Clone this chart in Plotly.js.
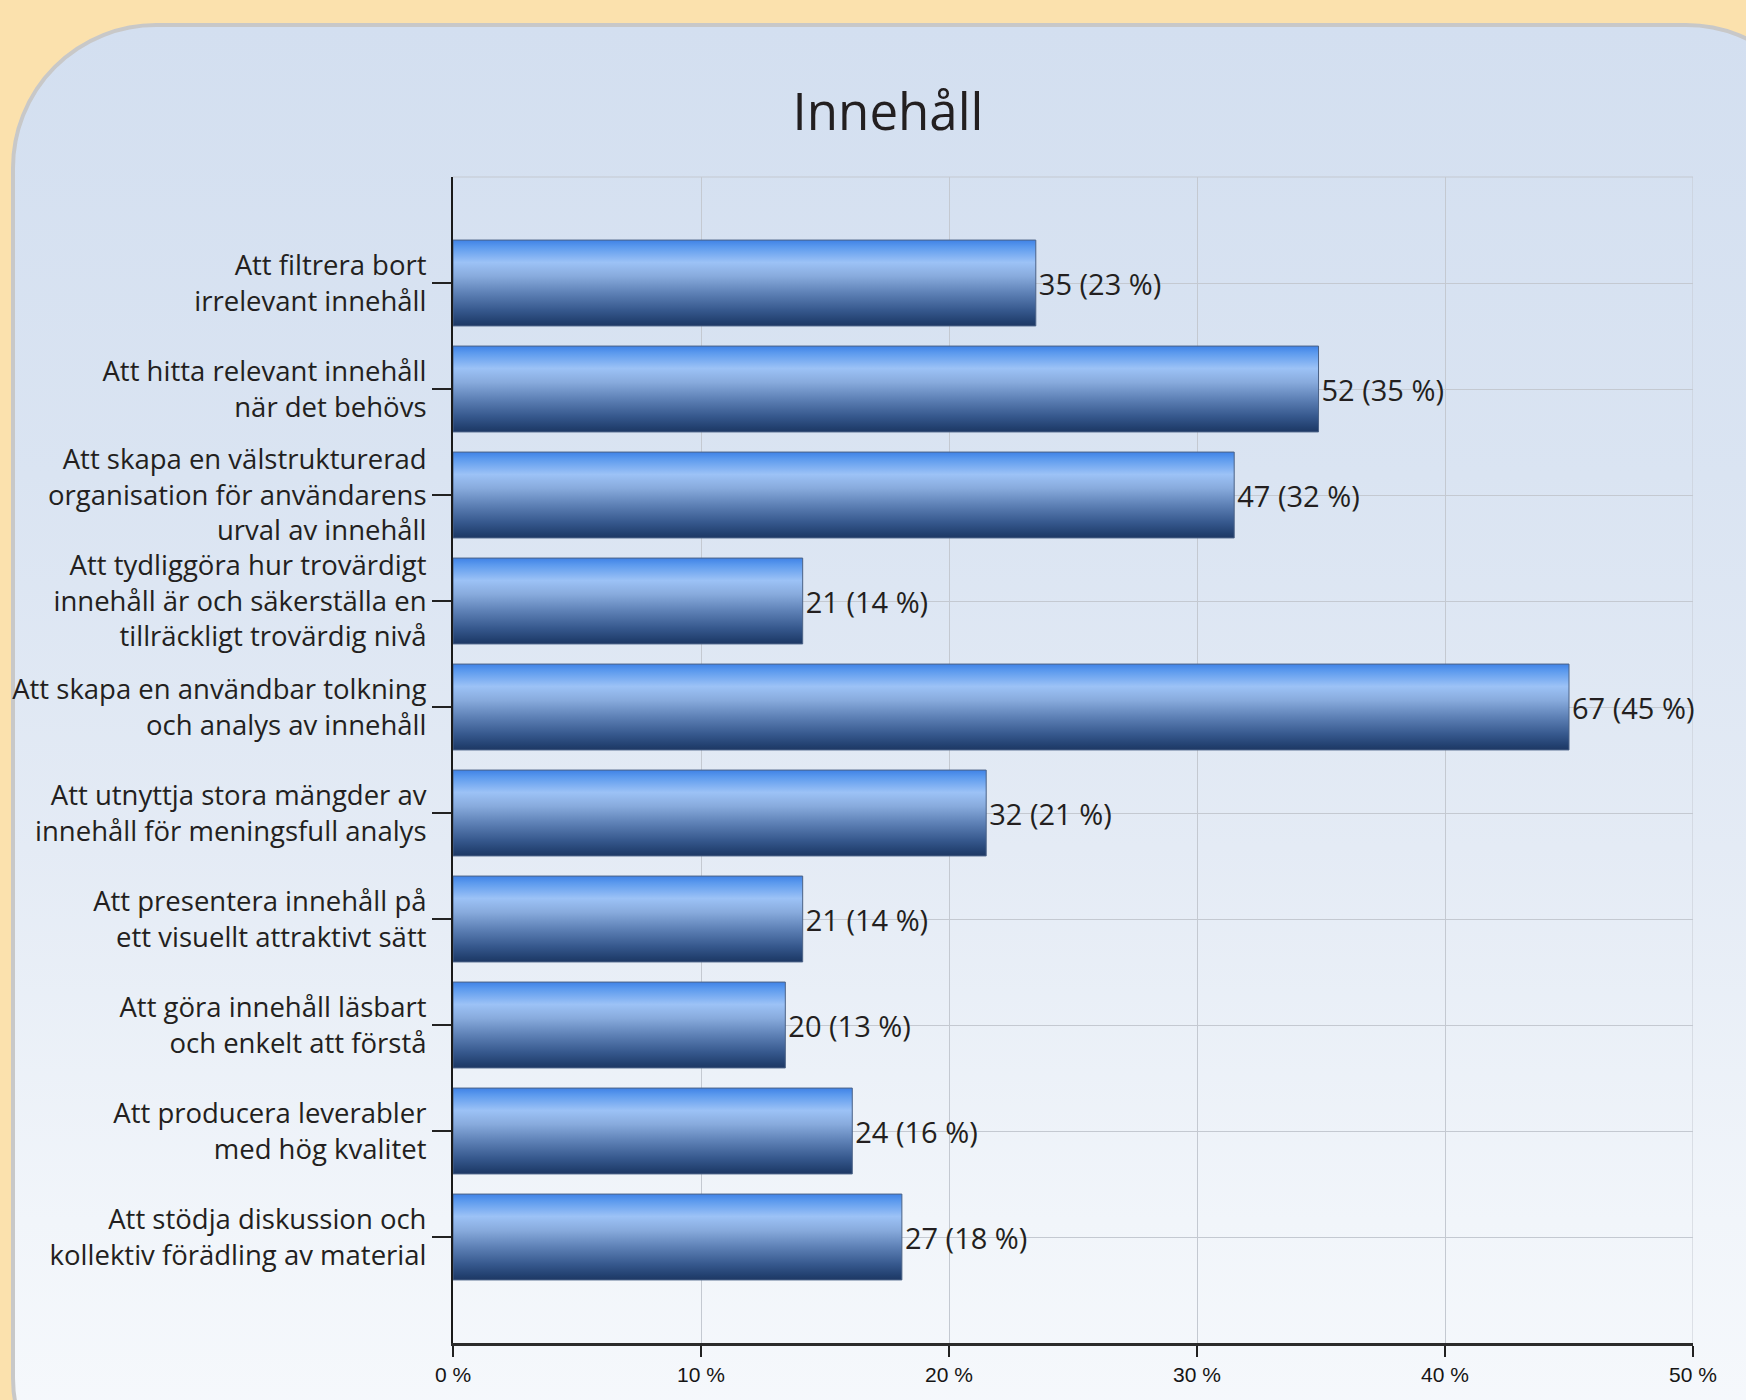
<!DOCTYPE html>
<html>
<head>
<meta charset="utf-8">
<script src="https://cdn.plot.ly/plotly-3.0.1.min.js"></script>
<style>
  html, body { margin: 0; padding: 0; background: #FBE1AD; width: 1746px; height: 1400px; overflow: hidden; }
  #panel {
    position: absolute; left: 11px; top: 23px; width: 1820px; height: 1500px;
    border: 4px solid #C8C8C8; border-radius: 145px; box-sizing: border-box;
    background: linear-gradient(to bottom, #D3DFF0 0%, #DAE4F2 30%, #E4EBF5 55%, #F1F5FA 80%, #F8FAFD 100%);
  }
  #chart { position: absolute; left: 0; top: 0; width: 1746px; height: 1400px; }
</style>
</head>
<body>
<div id="panel"></div>
<div id="chart"></div>
<script>
// ---- data ----
const categories = [
  "Att filtrera bort<br>irrelevant innehåll",
  "Att hitta relevant innehåll<br>när det behövs",
  "Att skapa en välstrukturerad<br>organisation för användarens<br>urval av innehåll",
  "Att tydliggöra hur trovärdigt<br>innehåll är och säkerställa en<br>tillräckligt trovärdig nivå",
  "Att skapa en användbar tolkning<br>och analys av innehåll",
  "Att utnyttja stora mängder av<br>innehåll för meningsfull analys",
  "Att presentera innehåll på<br>ett visuellt attraktivt sätt",
  "Att göra innehåll läsbart<br>och enkelt att förstå",
  "Att producera leverabler<br>med hög kvalitet",
  "Att stödja diskussion och<br>kollektiv förädling av material"
];
const counts = [35, 52, 47, 21, 67, 32, 21, 20, 24, 27];
const percentLabels = [23, 35, 32, 14, 45, 21, 14, 13, 16, 18];
const percentValues = [23.5, 34.9, 31.5, 14.1, 45.0, 21.5, 14.1, 13.4, 16.1, 18.1];
const xTickVals = [0, 10, 20, 30, 40, 50];
const xTickText = ["0 %", "10 %", "20 %", "30 %", "40 %", "50 %"];
const chartTitle = "Innehåll";

const labels = counts.map((c, i) => c + " (" + percentLabels[i] + " %)");

const textFont = '"Open Sans", Lato, sans-serif';
const gridColor = '#C4C9D1';

const trace = {
  type: 'bar',
  orientation: 'h',
  x: percentValues,
  y: categories,
  width: 0.81,
  text: labels,
  textposition: 'outside',
  constraintext: 'none',
  cliponaxis: false,
  textfont: { family: textFont, size: 29, color: '#231F20' },
  marker: { color: '#5B8CD3', line: { color: '#4B6286', width: 1 } },
  hoverinfo: 'none'
};

const layout = {
  width: 1746,
  height: 1400,
  paper_bgcolor: 'rgba(0,0,0,0)',
  plot_bgcolor: 'rgba(0,0,0,0)',
  margin: { l: 453, r: 53, t: 177, b: 57, pad: 0 },
  showlegend: false,
  title: {
    text: chartTitle,
    font: { family: textFont, size: 51, color: '#231F20' },
    x: 888 / 1746, xref: 'container', xanchor: 'center',
    y: 1 - 112 / 1400, yref: 'container', yanchor: 'middle'
  },
  xaxis: {
    range: [0, 50],
    tickmode: 'array',
    tickvals: xTickVals,
    ticktext: xTickText,
    tickfont: { family: '"Liberation Sans Narrow", "Arial Narrow", sans-serif', size: 21, color: '#151515' },
    ticks: 'outside', ticklen: 11, tickwidth: 1.5, tickcolor: '#222',
    showgrid: true, gridcolor: gridColor, gridwidth: 1,
    showline: true, linecolor: '#2b2b2b', linewidth: 3,
    zeroline: false, fixedrange: true
  },
  yaxis: {
    type: 'category',
    autorange: false,
    range: [10, -1],
    tickfont: { family: textFont, size: 27.5, color: '#231F20' },
    ticks: 'outside', ticklen: 19, tickwidth: 1.5, tickcolor: '#222',
    ticklabelstandoff: 0,
    showgrid: true, gridcolor: gridColor, gridwidth: 1,
    showline: true, linecolor: '#1a1a1a', linewidth: 2,
    zeroline: false, fixedrange: true
  },
  shapes: [
    { type: 'line', xref: 'x', yref: 'paper', x0: 0, x1: 50, y0: 1, y1: 1,
      line: { color: gridColor, width: 1 }, layer: 'below' },
    { type: 'line', xref: 'x', yref: 'paper', x0: 50, x1: 50, y0: 0, y1: 1,
      line: { color: gridColor, width: 1 }, layer: 'below' },
    { type: 'line', xref: 'x', xsizemode: 'pixel', xanchor: 0, x0: -19, x1: 0,
      yref: 'paper', y0: 1, y1: 1, line: { color: '#1a1a1a', width: 2 } },
    { type: 'line', xref: 'x', xsizemode: 'pixel', xanchor: 0, x0: -19, x1: 0,
      yref: 'paper', y0: 0, y1: 0, line: { color: '#2b2b2b', width: 3 } }
  ]
};

function applyGradient(gd) {
  const svg = gd.querySelector('svg.main-svg');
  if (!svg) return;
  let defs = svg.querySelector('defs');
  if (!defs) { defs = document.createElementNS('http://www.w3.org/2000/svg', 'defs'); svg.insertBefore(defs, svg.firstChild); }
  if (!svg.querySelector('#barGrad')) {
    const g = document.createElementNS('http://www.w3.org/2000/svg', 'linearGradient');
    g.setAttribute('id', 'barGrad');
    g.setAttribute('x1', '0'); g.setAttribute('y1', '0');
    g.setAttribute('x2', '0'); g.setAttribute('y2', '1');
    const stops = [
      [0, '#3F82E6'], [0.08, '#5C9AEE'], [0.26, '#9CC2F6'], [0.42, '#88ABDD'],
      [0.62, '#5D80B5'], [0.82, '#36588D'], [0.95, '#22406F'], [1, '#1E3864']
    ];
    stops.forEach(([o, c]) => {
      const s = document.createElementNS('http://www.w3.org/2000/svg', 'stop');
      s.setAttribute('offset', o); s.setAttribute('stop-color', c);
      g.appendChild(s);
    });
    defs.appendChild(g);
  }
  gd.querySelectorAll('.trace.bars .point path').forEach(p => {
    p.style.fill = 'url(#barGrad)';
  });
}

const gd = document.getElementById('chart');
Plotly.newPlot(gd, [trace], layout, { displayModeBar: false, staticPlot: true }).then(() => {
  applyGradient(gd);
  gd.on('plotly_afterplot', () => applyGradient(gd));
});
</script>
</body>
</html>
